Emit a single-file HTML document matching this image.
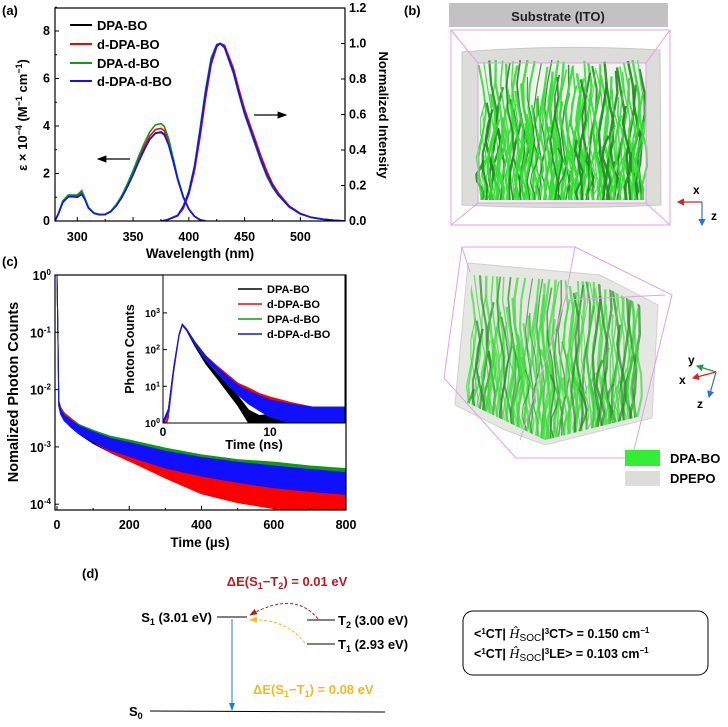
<!DOCTYPE html>
<html><head><meta charset="utf-8">
<style>
html,body{margin:0;padding:0;background:#fff;}
svg{display:block;font-family:"Liberation Sans",Arial,sans-serif;}
.b{font-weight:bold;}
</style></head>
<body>
<svg id="fig" width="728" height="727" viewBox="0 0 728 727" xmlns="http://www.w3.org/2000/svg">
<defs>
<clipPath id="clipA"><rect x="55" y="8" width="290" height="213"/></clipPath>
<clipPath id="clipC"><rect x="55" y="275" width="291" height="235"/></clipPath>
<clipPath id="clipI"><rect x="163" y="275" width="182" height="148"/></clipPath>
<clipPath id="clipTop"><rect x="466" y="60" width="190" height="140"/></clipPath>
<clipPath id="clipLow"><path d="M472 275 L595 282 L650 310 L645 415 L545 440 L462 400 Z"/></clipPath>
<marker id="arrBlk" markerWidth="8" markerHeight="8" refX="7" refY="4" orient="auto"><path d="M0,1 L8,4 L0,7 Z" fill="#000"/></marker>
<marker id="arrBlue" markerWidth="8" markerHeight="8" refX="7" refY="4" orient="auto"><path d="M0,1 L8,4 L0,7 Z" fill="#1f7fd0"/></marker>
<marker id="arrRed" markerWidth="8" markerHeight="8" refX="7" refY="4" orient="auto"><path d="M0,1 L8,4 L0,7 Z" fill="#c0181c"/></marker>
<marker id="arrOr" markerWidth="8" markerHeight="8" refX="7" refY="4" orient="auto"><path d="M0,1 L8,4 L0,7 Z" fill="#f5b820"/></marker>
<marker id="arrR" markerWidth="6" markerHeight="6" refX="5" refY="3" orient="auto"><path d="M0,0 L6,3 L0,6 Z" fill="#e02020"/></marker>
<marker id="arrB" markerWidth="6" markerHeight="6" refX="5" refY="3" orient="auto"><path d="M0,0 L6,3 L0,6 Z" fill="#3070d0"/></marker>
<marker id="arrG" markerWidth="6" markerHeight="6" refX="5" refY="3" orient="auto"><path d="M0,0 L6,3 L0,6 Z" fill="#20a040"/></marker>
</defs>

<text x="2" y="15" class="b" font-size="13">(a)</text>
<text x="404" y="15" class="b" font-size="13">(b)</text>
<text x="2" y="266" class="b" font-size="13">(c)</text>
<text x="82" y="578" class="b" font-size="13">(d)</text>

<g id="panelA"></g>
<g id="panelC"></g>

<!-- panel b -->
<g>
<rect x="449" y="3" width="219" height="24" fill="#c2c2c2"/>
<text x="558" y="21" text-anchor="middle" class="b" font-size="13" fill="#222">Substrate (ITO)</text>
<g>
<path d="M462 52 Q560 44 660 50 L661 205 Q560 210 462 205 Z" fill="#dcdcd8" stroke="#c8c8c4"/>
<rect x="478" y="63" width="168" height="140" fill="#f2f2f0"/>
<g id="topStreaks" clip-path="url(#clipTop)"></g>
<path d="M451 30 L670 30 L670 225 L451 225 Z M451 30 L478 63 M670 30 L646 63 M451 225 L478 203 M670 225 L646 203 M478 63 L646 63 L646 203 L478 203 Z" fill="none" stroke="#e0a0e8"/>
<line x1="702" y1="202" x2="678" y2="202" stroke="#e02020" stroke-width="1.2" marker-end="url(#arrR)"/>
<line x1="702" y1="202" x2="702" y2="225" stroke="#3070d0" stroke-width="1.2" marker-end="url(#arrB)"/>
<text x="693" y="194" class="b" font-size="12">x</text>
<text x="711" y="220" class="b" font-size="12">z</text>
</g>
<g>
<path d="M468 263 L600 275 L658 305 L652 418 L545 445 L505 430 L455 405 Z" fill="#e6e6e2" stroke="#d0d0cc"/>
<g id="lowStreaks" clip-path="url(#clipLow)"></g>
<path d="M462 247 L575 247 L672 295 L632 458 L516 458 L444 378 Z M462 247 L470 272 M575 247 L565 300 M565 300 L665 295 M565 300 L520 440" fill="none" stroke="#e0a0e8"/>
<line x1="716" y1="372" x2="697" y2="366" stroke="#20a040" stroke-width="1.2" marker-end="url(#arrG)"/>
<line x1="716" y1="372" x2="693" y2="378" stroke="#e02020" stroke-width="1.2" marker-end="url(#arrR)"/>
<line x1="716" y1="372" x2="709" y2="397" stroke="#3070d0" stroke-width="1.2" marker-end="url(#arrB)"/>
<text x="688" y="364" class="b" font-size="12">y</text>
<text x="679" y="384" class="b" font-size="12">x</text>
<text x="697" y="408" class="b" font-size="12">z</text>
</g>
<rect x="625" y="450" width="35" height="16" fill="#33ee33"/>
<text x="670" y="463" class="b" font-size="13">DPA-BO</text>
<rect x="625" y="471" width="35" height="15" fill="#dcdcd8"/>
<text x="670" y="483" class="b" font-size="13">DPEPO</text>
</g>

<!-- panel d -->
<g font-size="13" class="b">
<text x="287" y="586" text-anchor="middle" fill="#c0181c">ΔE(S<tspan font-size="9" dy="3">1</tspan><tspan dy="-3">−T</tspan><tspan font-size="9" dy="3">2</tspan><tspan dy="-3">) = 0.01 eV</tspan></text>
<line x1="217" y1="617" x2="247" y2="617" stroke="#000"/>
<text x="212" y="622" text-anchor="end">S<tspan font-size="9" dy="3">1</tspan><tspan dy="-3"> (3.01 eV)</tspan></text>
<line x1="307" y1="620" x2="335" y2="620" stroke="#000"/>
<text x="338" y="625">T<tspan font-size="9" dy="3">2</tspan><tspan dy="-3"> (3.00 eV)</tspan></text>
<line x1="307" y1="644" x2="335" y2="644" stroke="#000"/>
<text x="338" y="649">T<tspan font-size="9" dy="3">1</tspan><tspan dy="-3"> (2.93 eV)</tspan></text>
<path d="M318 619 Q295 590 250 615" fill="none" stroke="#c0181c" stroke-dasharray="3,2" marker-end="url(#arrRed)"/>
<path d="M305 643 Q285 618 250 620" fill="none" stroke="#f5b820" stroke-dasharray="3,2" marker-end="url(#arrOr)"/>
<line x1="232" y1="619" x2="232" y2="710" stroke="#1f7fd0" marker-end="url(#arrBlue)"/>
<text x="253" y="694" fill="#f5b820">ΔE(S<tspan font-size="9" dy="3">1</tspan><tspan dy="-3">−T</tspan><tspan font-size="9" dy="3">1</tspan><tspan dy="-3">) = 0.08 eV</tspan></text>
<line x1="150" y1="711" x2="385" y2="712" stroke="#000"/>
<text x="129" y="716">S<tspan font-size="9" dy="3">0</tspan></text>
<rect x="463" y="611" width="245" height="64" rx="10" fill="#fff" stroke="#000"/>
<text x="474" y="638" font-size="12.5">&lt;<tspan font-size="8" dy="-4">1</tspan><tspan dy="4">CT| </tspan><tspan font-family="Liberation Serif" font-style="italic" font-weight="normal" font-size="14">Ĥ</tspan><tspan font-weight="normal" font-size="10" dy="3">SOC</tspan><tspan dy="-3">|</tspan><tspan font-size="8" dy="-4">3</tspan><tspan dy="4">CT&gt; = 0.150 cm</tspan><tspan font-size="8" dy="-5">−1</tspan></text>
<text x="474" y="658" font-size="12.5">&lt;<tspan font-size="8" dy="-4">1</tspan><tspan dy="4">CT| </tspan><tspan font-family="Liberation Serif" font-style="italic" font-weight="normal" font-size="14">Ĥ</tspan><tspan font-weight="normal" font-size="10" dy="3">SOC</tspan><tspan dy="-3">|</tspan><tspan font-size="8" dy="-4">3</tspan><tspan dy="4">LE&gt; = 0.103 cm</tspan><tspan font-size="8" dy="-5">−1</tspan></text>
</g>
</svg>

<script>
// ---------- Panel (a) data ----------
const absWl = [280,283,287,292,296,300,304,307,310,315,320,325,330,335,340,345,350,355,360,365,370,375,378,382,386,390,395,400,405,410,415];
const absDPABO = [0,0.3,0.8,1.05,1.05,1.05,1.2,0.9,0.55,0.33,0.27,0.28,0.4,0.65,1.0,1.45,1.95,2.5,3.0,3.45,3.7,3.75,3.65,3.2,2.5,1.75,1.0,0.5,0.2,0.05,0];
const absdDPABO = [0,0.3,0.8,1.05,1.05,1.05,1.2,0.9,0.55,0.33,0.27,0.28,0.4,0.66,1.03,1.5,2.02,2.6,3.12,3.58,3.85,3.9,3.8,3.3,2.58,1.8,1.03,0.5,0.2,0.05,0];
const absDPAdBO = [0,0.32,0.85,1.1,1.1,1.1,1.28,0.95,0.58,0.34,0.28,0.29,0.42,0.7,1.08,1.58,2.12,2.72,3.27,3.75,4.05,4.1,3.98,3.45,2.65,1.82,1.03,0.5,0.2,0.05,0];
const absdDPAdBO = [0,0.3,0.78,1.02,1.02,1.0,1.12,0.88,0.54,0.32,0.26,0.27,0.39,0.64,1.0,1.45,1.95,2.5,3.0,3.44,3.69,3.73,3.63,3.18,2.5,1.75,1.0,0.5,0.2,0.05,0];
const emWl = [375,380,390,395,400,405,410,415,420,425,428,432,440,445,450,455,460,465,470,475,480,490,500,510,520,530,540];
const emDPABO = [0,0.005,0.03,0.08,0.16,0.3,0.5,0.72,0.9,0.99,1.0,0.98,0.84,0.72,0.61,0.52,0.43,0.34,0.26,0.2,0.15,0.08,0.04,0.02,0.01,0.004,0];
const emdDPABO = [0,0.005,0.03,0.07,0.15,0.28,0.47,0.69,0.88,0.98,1.0,0.99,0.86,0.74,0.63,0.54,0.45,0.36,0.28,0.21,0.16,0.085,0.043,0.02,0.01,0.004,0];
const emDPAdBO = [0,0.006,0.033,0.085,0.17,0.31,0.52,0.74,0.92,0.995,1.0,0.975,0.83,0.71,0.6,0.51,0.42,0.33,0.25,0.19,0.145,0.078,0.04,0.02,0.01,0.004,0];
const emdDPAdBO = [0,0.005,0.03,0.08,0.16,0.3,0.5,0.72,0.9,0.99,1.0,0.98,0.84,0.72,0.61,0.52,0.43,0.34,0.26,0.2,0.15,0.08,0.04,0.02,0.01,0.004,0];
const seriesNames = ["DPA-BO","d-DPA-BO","DPA-d-BO","d-DPA-d-BO"];
const seriesColors = ["#000000","#ff0000","#119911","#1010ff"];
const aXTicks = [300,350,400,450,500];
const aYTicks = [0,2,4,6,8];
const aY2Ticks = ["0.0","0.2","0.4","0.6","0.8","1.0","1.2"];

// ---------- Panel (c) data ----------
const decT = [0,2,5,10,20,40,60,100,150,200,300,400,500,600,700,800];
const decDPABO = [1,0.15,0.0055,0.0042,0.0033,0.0025,0.002,0.0014,0.001,0.00075,0.00042,0.00024,0.00017,0.00014,0.00012,0.0001];
const decdDPABO = [1,0.15,0.006,0.0045,0.0035,0.0027,0.0021,0.0015,0.001,0.00075,0.0004,0.00022,0.00016,0.00013,0.00011,0.0001];
const decDPAdBO = [1,0.15,0.0058,0.0042,0.0033,0.0025,0.0021,0.0016,0.0012,0.001,0.00068,0.0005,0.0004,0.00035,0.0003,0.00027];
const decdDPAdBO = [1,0.15,0.0057,0.0041,0.0032,0.0025,0.002,0.0015,0.0011,0.0009,0.0006,0.00045,0.00036,0.0003,0.00026,0.00023];
const decSpread = [1.0,1.05,1.08,1.1,1.12,1.15,1.18,1.22,1.27,1.32,1.4,1.45,1.5,1.55,1.55,1.55];
const insT = [0,0.3,0.5,1,1.5,1.8,2.2,3,4,5,6,7,8,9,10,12,14,17];
const insDPABO = [1,1.5,2,30,250,470,340,130,45,20,9,4,1.5,1,1,1,1,1];
const insdDPABO = [1,1,1.5,25,240,460,350,150,62,32,17,9,6,4,3,2,1.5,1.5];
const insDPAdBO = [1,1.5,2,30,250,480,350,145,58,29,15,8,5,3.5,2.5,1.8,1.5,1.5];
const insdDPAdBO = [1,1.6,2.2,32,255,490,355,150,60,30,15,8,5,3.5,2.5,1.8,1.5,1.5];
const insSpread = [1.1,1.1,1.1,1.05,1.03,1.02,1.03,1.06,1.1,1.15,1.25,1.35,1.5,1.6,1.7,1.8,1.8,1.8];
const cXTicks = [0,200,400,600,800];
const cYExp = [0,-1,-2,-3,-4];
const iXTicks = [0,10];
const iYExp = [0,1,2,3];

const NS = "http://www.w3.org/2000/svg";
function mk(tag, attrs, parent){const e=document.createElementNS(NS,tag);for(const k in attrs)e.setAttribute(k,attrs[k]);parent.appendChild(e);return e;}

// ---------- panel b decorative streaks ----------
(function(){
function streaks(gid,x0,x1,y0,y1,n,op){
  const g=document.getElementById(gid);
  for(let i=0;i<n;i++){
    const x=x0+(x1-x0)*((i*0.618)%1);
    const h=0.3+0.7*Math.abs(Math.sin(i*1.7));
    const ys=y1-(y1-y0)*h;
    let d='M'+x.toFixed(1)+' '+y1;
    for(let k=1;k<=6;k++){d+=' L'+(x+4*Math.sin(i+k*1.3)).toFixed(1)+' '+(y1-(y1-ys)*k/6).toFixed(1);}
    const p=mk('path',{d:d,fill:'none',stroke:(i%3===0?'#1c8c1c':'#36dc36'),'stroke-width':(1+1.5*Math.abs(Math.cos(i*0.9))).toFixed(1),opacity:op},g);
    
    
  }
}
streaks('topStreaks',480,645,60,203,120,0.9);
streaks('lowStreaks',470,640,270,440,110,0.7);
})();

// ---------- draw panel A ----------
(function(){
const g=document.getElementById('panelA');
const X0=55,X1=345,Yb=221,Yt=8;
const xs=v=>X0+(v-280)*(X1-X0)/260;
const ys=v=>Yb-v*23.75;
const ys2=v=>Yb-v*177.5;
const absSets=[absDPABO,absdDPABO,absDPAdBO,absdDPAdBO];
const emSets=[emDPABO,emdDPABO,emDPAdBO,emdDPAdBO];
const clip=mk('g',{'clip-path':'url(#clipA)'},g);


for(let s=0;s<4;s++){
  const pa=mk('polyline',{points:absWl.map((w,i)=>xs(w)+','+ys(absSets[s][i])).join(' '),fill:'none',stroke:seriesColors[s],'stroke-width':1.6},clip);
  
  
  const pe=mk('polyline',{points:emWl.map((w,i)=>xs(w)+','+ys2(emSets[s][i])).join(' '),fill:'none',stroke:seriesColors[s],'stroke-width':1.6},clip);
  
  
}
const fr=mk('rect',{x:X0,y:Yt,width:X1-X0,height:Yb-Yt,fill:'none',stroke:'#000','stroke-width':1.2},g);


aXTicks.forEach(v=>{
  mk('line',{x1:xs(v),x2:xs(v),y1:Yb,y2:Yb-4,stroke:'#000'},g);
  mk('line',{x1:xs(v+25),x2:xs(v+25),y1:Yb,y2:Yb-2,stroke:'#000'},g);
  const t=mk('text',{x:xs(v),y:241,'text-anchor':'middle','font-size':12.5,'font-weight':'bold'},g);t.textContent=v;
  
  
});
aYTicks.forEach(v=>{
  mk('line',{x1:X0,x2:X0+4,y1:ys(v),y2:ys(v),stroke:'#000'},g);
  mk('line',{x1:X0,x2:X0+2,y1:ys(v+1),y2:ys(v+1),stroke:'#000'},g);
  const t=mk('text',{x:X0-5,y:ys(v)+4,'text-anchor':'end','font-size':12.5,'font-weight':'bold'},g);t.textContent=v;
  
  
});
aY2Ticks.forEach(v=>{
  const y=ys2(parseFloat(v));
  mk('line',{x1:X1,x2:X1-4,y1:y,y2:y,stroke:'#000'},g);
  const t=mk('text',{x:X1+4,y:y+4,'font-size':12.5,'font-weight':'bold'},g);t.textContent=v;
  
  
});
const xt=mk('text',{x:200,y:258,'text-anchor':'middle','font-size':13.5,'font-weight':'bold'},g);xt.textContent='Wavelength (nm)';


const yt=mk('text',{transform:'translate(27,115) rotate(-90)','text-anchor':'middle','font-size':13,'font-weight':'bold'},g);
yt.innerHTML='ε × 10<tspan font-size="9" dy="-5">−4</tspan><tspan dy="5"> (M</tspan><tspan font-size="9" dy="-5">−1</tspan><tspan dy="5">  cm</tspan><tspan font-size="9" dy="-5">−1</tspan><tspan dy="5">)</tspan>';


const y2=mk('text',{transform:'translate(379,115) rotate(90)','text-anchor':'middle','font-size':13,'font-weight':'bold'},g);y2.textContent='Normalized Intensity';


const legY=[25,44,63,81];
for(let s=0;s<4;s++){
  mk('line',{x1:70,x2:92,y1:legY[s],y2:legY[s],stroke:seriesColors[s],'stroke-width':2},g);
  const t=mk('text',{x:97,y:legY[s]+5,'font-size':13,'font-weight':'bold'},g);t.textContent=seriesNames[s];
  
  
}
const a1=mk('line',{x1:130,y1:159,x2:98,y2:159,stroke:'#000','stroke-width':1.2,'marker-end':'url(#arrBlk)'},g);


const a2=mk('line',{x1:254,y1:115,x2:286,y2:115,stroke:'#000','stroke-width':1.2,'marker-end':'url(#arrBlk)'},g);


})();

// ---------- draw panel C ----------
(function(){
const g=document.getElementById('panelC');
const X0=55,X1=346,Yt=275,Yb=510;
const xs=v=>57+v*(346-57)/800;
const ys=v=>Yt-Math.log10(v)*57.3;
const ix=v=>163+v*10.7;
const iy=v=>423-Math.log10(v)*36.7;
const sets=[decDPABO,decdDPABO,decDPAdBO,decdDPAdBO];
const clip=mk('g',{'clip-path':'url(#clipC)'},g);


[0,1,2,3].forEach(s=>{
  const up=decT.map((t,i)=>xs(t)+','+ys(sets[s][i]*decSpread[i]));
  const lo=decT.map((t,i)=>xs(t)+','+ys(sets[s][i]/decSpread[i])).reverse();
  const p=mk('polygon',{points:up.concat(lo).join(' '),fill:seriesColors[s],stroke:seriesColors[s],'stroke-width':1},clip);
  
  
});
mk('rect',{x:X0,y:Yt,width:X1-X0,height:Yb-Yt,fill:'none',stroke:'#000','stroke-width':1.2},g);
cXTicks.forEach(v=>{
  mk('line',{x1:xs(v),x2:xs(v),y1:Yb,y2:Yb-4,stroke:'#000'},g);
  if(v<800) mk('line',{x1:xs(v+100),x2:xs(v+100),y1:Yb,y2:Yb-2,stroke:'#000'},g);
  const t=mk('text',{x:xs(v),y:529,'text-anchor':'middle','font-size':12.5,'font-weight':'bold'},g);t.textContent=v;
  
  
});
cYExp.forEach(e=>{
  mk('line',{x1:X0,x2:X0+4,y1:ys(Math.pow(10,e)),y2:ys(Math.pow(10,e)),stroke:'#000'},g);
  const t=mk('text',{x:X0-4,y:ys(Math.pow(10,e))+5,'text-anchor':'end','font-size':12.5,'font-weight':'bold'},g);
  t.innerHTML='10<tspan font-size="8" dy="-5">'+e+'</tspan>';
  
  
});
const xt=mk('text',{x:200,y:547,'text-anchor':'middle','font-size':13.5,'font-weight':'bold'},g);xt.textContent='Time (µs)';


const yt=mk('text',{transform:'translate(18,392) rotate(-90)','text-anchor':'middle','font-size':14.5,'font-weight':'bold'},g);yt.textContent='Nomalized Photon Counts';


// inset
const ins=[insDPABO,insdDPABO,insDPAdBO,insdDPAdBO];
mk('rect',{x:163,y:275,width:182,height:148,fill:'#fff'},g);
const ic=mk('g',{'clip-path':'url(#clipI)'},g);


[0,1,2,3].forEach(s=>{
  const up=insT.map((t,i)=>ix(t)+','+iy(ins[s][i]*insSpread[i]));
  const lo=insT.map((t,i)=>ix(t)+','+iy(Math.max(ins[s][i]/insSpread[i],0.9))).reverse();
  const p=mk('polygon',{points:up.concat(lo).join(' '),fill:seriesColors[s],stroke:seriesColors[s],'stroke-width':1},ic);
  
  
});
const ifr=mk('rect',{x:163,y:275,width:182,height:148,fill:'none',stroke:'#000','stroke-width':1},g);


iXTicks.forEach(v=>{
  mk('line',{x1:ix(v),x2:ix(v),y1:423,y2:419,stroke:'#000'},g);
  const t=mk('text',{x:ix(v),y:436,'text-anchor':'middle','font-size':12,'font-weight':'bold'},g);t.textContent=v;
  
  
});
iYExp.forEach(e=>{
  mk('line',{x1:163,x2:167,y1:iy(Math.pow(10,e)),y2:iy(Math.pow(10,e)),stroke:'#000'},g);
  const t=mk('text',{x:160,y:iy(Math.pow(10,e))+4,'text-anchor':'end','font-size':10,'font-weight':'bold'},g);
  t.innerHTML='10<tspan font-size="7" dy="-4">'+e+'</tspan>';
  
  
});
const ixt=mk('text',{x:254,y:449,'text-anchor':'middle','font-size':13,'font-weight':'bold'},g);ixt.textContent='Time (ns)';


const iyt=mk('text',{transform:'translate(134,349) rotate(-90)','text-anchor':'middle','font-size':12.5,'font-weight':'bold'},g);iyt.textContent='Photon Counts';


const legY=[289,304,319,334];
for(let s=0;s<4;s++){
  mk('line',{x1:238,x2:262,y1:legY[s],y2:legY[s],stroke:seriesColors[s],'stroke-width':1.5},g);
  const t=mk('text',{x:267,y:legY[s]+4,'font-size':11,'font-weight':'bold'},g);t.textContent=seriesNames[s];
  
  
}
})();
</script>
</body></html>
